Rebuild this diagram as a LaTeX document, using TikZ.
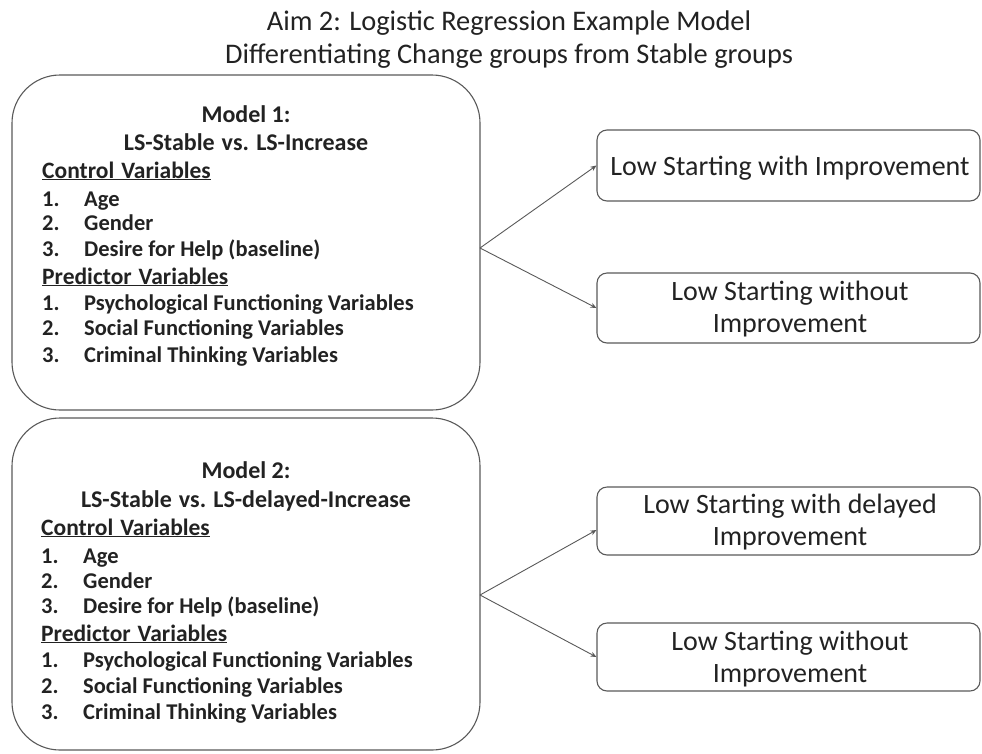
\documentclass[tikz,border=0pt]{standalone}
\usepackage{fontspec}
\setmainfont{Carlito}
\usetikzlibrary{arrows.meta}
\definecolor{linegray}{HTML}{595959}
\definecolor{txtgray}{HTML}{222222}
\tikzset{
  modelbox/.style={draw=linegray, line width=1.1pt, rounded corners=48pt},
  outbox/.style={draw=linegray, line width=1.1pt, rounded corners=10pt, inner sep=0pt, minimum width=383pt},
  outtext/.style={font=\fontsize{28}{32}\selectfont, text=txtgray, anchor=base, inner sep=0pt},
  titletext/.style={font=\fontsize{28.4}{33}\selectfont, text=txtgray, anchor=base},
  head/.style={font=\fontsize{24}{26}\selectfont\bfseries, text=txtgray, anchor=base},
  sect/.style={font=\fontsize{23.5}{26}\selectfont\bfseries, text=txtgray, anchor=base west, inner sep=0pt},
  lbl/.style={font=\fontsize{22.5}{26}\selectfont\bfseries, text=txtgray, anchor=base west, inner sep=0pt},
  link/.style={draw=linegray, line width=0.9pt, -{Stealth[length=6pt,width=5pt]}}
}
\newcommand{\gapword}{\hspace{7pt}}
\begin{document}
\begin{tikzpicture}[x=1pt,y=-1pt]
\useasboundingbox (0,0) rectangle (982,753);

% title
\node[titletext] (title1) at (509,30) {Aim 2: Logistic Regression Example Model};
\node[titletext] (title2) at (509,63) {Differentiating Change groups from Stable groups};

% model 1 box and contents
\draw[modelbox] (12,75) rectangle (480,410);
\node[head] (m1a) at (246,122) {Model 1:};
\node[head] (m1b) at (246,150) {LS-Stable\gapword vs. LS-Increase};
\node[sect] (m1c) at (42,178) {\underline{Control\gapword Variables}};
\node[lbl] (m1n1) at (42,206) {1.};  \node[lbl] (m1t1) at (84,206) {Age};
\node[lbl] (m1n2) at (42,230) {2.};  \node[lbl] (m1t2) at (84,230) {Gender};
\node[lbl] (m1n3) at (42,256) {3.};  \node[lbl] (m1t3) at (84,256) {Desire for Help (baseline)};
\node[sect] (m1p) at (42,284) {\underline{Predictor\gapword Variables}};
\node[lbl] (m1n4) at (42,310) {1.};  \node[lbl] (m1t4) at (84,310) {Psychological Functioning Variables};
\node[lbl] (m1n5) at (42,335) {2.};  \node[lbl] (m1t5) at (84,335) {Social Functioning Variables};
\node[lbl] (m1n6) at (42,362) {3.};  \node[lbl] (m1t6) at (84,362) {Criminal Thinking Variables};

% model 2 box and contents
\draw[modelbox] (12,418) rectangle (480,750);
\node[head] (m2a) at (246,478) {Model 2:};
\node[head] (m2b) at (246,507) {LS-Stable\gapword vs. LS-delayed-Increase};
\node[sect] (m2c) at (41,535) {\underline{Control\gapword Variables}};
\node[lbl] (m2n1) at (41,563) {1.};  \node[lbl] (m2t1) at (83,563) {Age};
\node[lbl] (m2n2) at (41,588) {2.};  \node[lbl] (m2t2) at (83,588) {Gender};
\node[lbl] (m2n3) at (41,613) {3.};  \node[lbl] (m2t3) at (83,613) {Desire for Help (baseline)};
\node[sect] (m2p) at (41,641) {\underline{Predictor\gapword Variables}};
\node[lbl] (m2n4) at (41,667) {1.};  \node[lbl] (m2t4) at (83,667) {Psychological Functioning Variables};
\node[lbl] (m2n5) at (41,693) {2.};  \node[lbl] (m2t5) at (83,693) {Social Functioning Variables};
\node[lbl] (m2n6) at (41,719) {3.};  \node[lbl] (m2t6) at (83,719) {Criminal Thinking Variables};

% outcome boxes
\node[outbox, minimum height=71pt] (o1) at (788.5,165.5) {};
\node[outtext] (o1t) at (790,175) {Low Starting with Improvement};
\node[outbox, minimum height=70pt] (o2) at (788.5,308) {};
\node[outtext] (o2a) at (790,300) {Low Starting without};
\node[outtext] (o2b) at (790,332) {Improvement};
\node[outbox, minimum height=68pt] (o3) at (788.5,521) {};
\node[outtext] (o3a) at (790,513) {Low Starting with delayed};
\node[outtext] (o3b) at (790,545) {Improvement};
\node[outbox, minimum height=68pt] (o4) at (788.5,657) {};
\node[outtext] (o4a) at (790,650) {Low Starting without};
\node[outtext] (o4b) at (790,682) {Improvement};

% branching connectors
\coordinate (s1) at (480,248);
\coordinate (s2) at (480,595);
\draw[link] (s1) -- (o1.west);
\draw[link] (s1) -- (o2.west);
\draw[link] (s2) -- ([yshift=-9pt]o3.west);
\draw[link] (s2) -- (o4.west);
\end{tikzpicture}
\end{document}
